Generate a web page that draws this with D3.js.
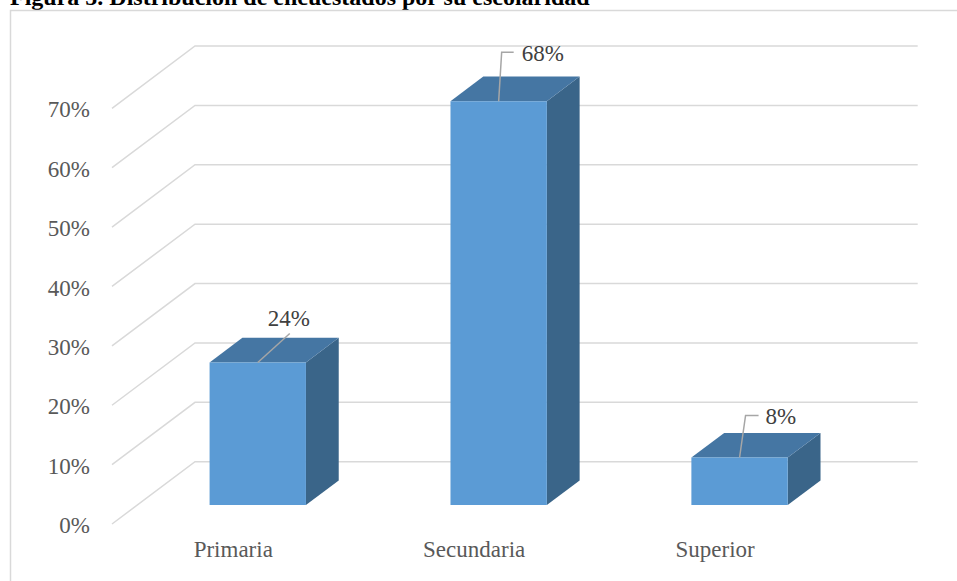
<!DOCTYPE html>
<html>
<head>
<meta charset="utf-8">
<script src="https://cdn.jsdelivr.net/npm/d3@7"></script>
<style>
  body { margin: 0; background: #fff; }
  svg text { font-family: "Liberation Serif", "Times New Roman", Times, serif !important; }
</style>
</head>
<body>
<div id="chart"></div>
<script>
// data
const categories = ["Primaria", "Secundaria", "Superior"];
const values = [24, 68, 8];
const valueLabels = ["24%", "68%", "8%"];
const ticks = [0, 10, 20, 30, 40, 50, 60, 70];

// leader line / label placement, relative to the top-front centre of each bar
const labelLayout = [
    { pts: [[32, -29]], tx: 31, ty: -36, anchor: "middle" },
    { pts: [[3, -49], [15, -49]], tx: 23, ty: -40, anchor: "start" },
    { pts: [[6, -42], [19, -42]], tx: 26, ty: -33, anchor: "start" }
];

const width = 957, height = 581;
const depthX = 83, depthY = 62.3;   // offset from back wall to front of floor
const dFront = 0.695, dBack = 0.30; // bar depth inside the floor
const serif = "'Liberation Serif', 'Times New Roman', serif";

const svg = d3.select("#chart")
    .append("svg")
    .attr("width", width)
    .attr("height", height);

// title (cut off at top in the original)
svg.append("text")
    .attr("x", 10)
    .attr("y", 5)
    .attr("font-family", serif)
    .attr("font-weight", "bold")
    .attr("font-size", "24px")
    .attr("fill", "#000")
    .text("Figura 5. Distribución de encuestados por su escolaridad");

// chart border
svg.append("rect")
    .attr("x", 10.5)
    .attr("y", 10.5)
    .attr("width", width + 20)
    .attr("height", height + 20)
    .attr("fill", "none")
    .attr("stroke", "#d9d9d9")
    .attr("stroke-width", 1.5);

const x = d3.scaleBand().domain(categories).range([195, 917.7]);
const y = d3.scaleLinear().domain([0, 70]).range([461.7, 46]);

// back-wall coords + depth (0 = wall, 1 = floor front) -> screen
const proj = (xb, yb, d) => [xb - d * depthX, yb + d * depthY];

// gridlines
const grid = svg.append("g").attr("class", "grid");
ticks.forEach(t => {
    const f = proj(x.range()[0], y(t), 1);
    grid.append("polyline")
        .attr("points", [f, [x.range()[0], y(t)], [x.range()[1], y(t)]].map(p => p.join(",")).join(" "))
        .attr("fill", "none")
        .attr("stroke", "#d9d9d9")
        .attr("stroke-width", 1.5);
});

// y tick labels
svg.append("g").selectAll("text")
    .data(ticks)
    .join("text")
    .attr("x", 90)
    .attr("y", d => proj(x.range()[0], y(d), 1)[1] + 1)
    .attr("dy", "0.35em")
    .attr("text-anchor", "end")
    .attr("font-family", serif)
    .attr("font-size", "23px")
    .attr("fill", "#595959")
    .text(d => d + "%");

// bars
const bars = svg.append("g").attr("class", "bars");
const poly = pts => pts.map(p => p.join(",")).join(" ");

categories.forEach((c, i) => {
    const cx = x(c) + x.bandwidth() / 2;
    const hw = x.bandwidth() * 0.2;
    const xl = cx - hw, xr = cx + hw;
    const y0 = y(0), yv = y(values[i]);

    // side
    bars.append("polygon")
        .attr("points", poly([proj(xr, y0, dFront), proj(xr, yv, dFront), proj(xr, yv, dBack), proj(xr, y0, dBack)]))
        .attr("fill", "#3a6589");
    // top
    bars.append("polygon")
        .attr("points", poly([proj(xl, yv, dFront), proj(xr, yv, dFront), proj(xr, yv, dBack), proj(xl, yv, dBack)]))
        .attr("fill", "#4576a3");
    // front
    bars.append("polygon")
        .attr("points", poly([proj(xl, y0, dFront), proj(xr, y0, dFront), proj(xr, yv, dFront), proj(xl, yv, dFront)]))
        .attr("fill", "#5b9bd5");

    // leader + value label
    const s = proj(cx, yv, dFront);
    const L = labelLayout[i];
    const pts = [s].concat(L.pts.map(p => [s[0] + p[0], s[1] + p[1]]));
    bars.append("polyline")
        .attr("points", poly(pts))
        .attr("fill", "none")
        .attr("stroke", "#a6a6a6")
        .attr("stroke-width", 1.5);
    bars.append("text")
        .attr("x", s[0] + L.tx)
        .attr("y", s[1] + L.ty)
        .attr("text-anchor", L.anchor)
        .attr("font-family", serif)
        .attr("font-size", "23px")
        .attr("fill", "#404040")
        .text(valueLabels[i]);
});

// category labels
svg.append("g").selectAll("text")
    .data(categories)
    .join("text")
    .attr("x", d => proj(x(d) + x.bandwidth() / 2, y(0), 0.99)[0])
    .attr("y", y(0) + depthY + 33)
    .attr("text-anchor", "middle")
    .attr("font-family", serif)
    .attr("font-size", "23px")
    .attr("fill", "#595959")
    .text(d => d);
</script>
</body>
</html>
